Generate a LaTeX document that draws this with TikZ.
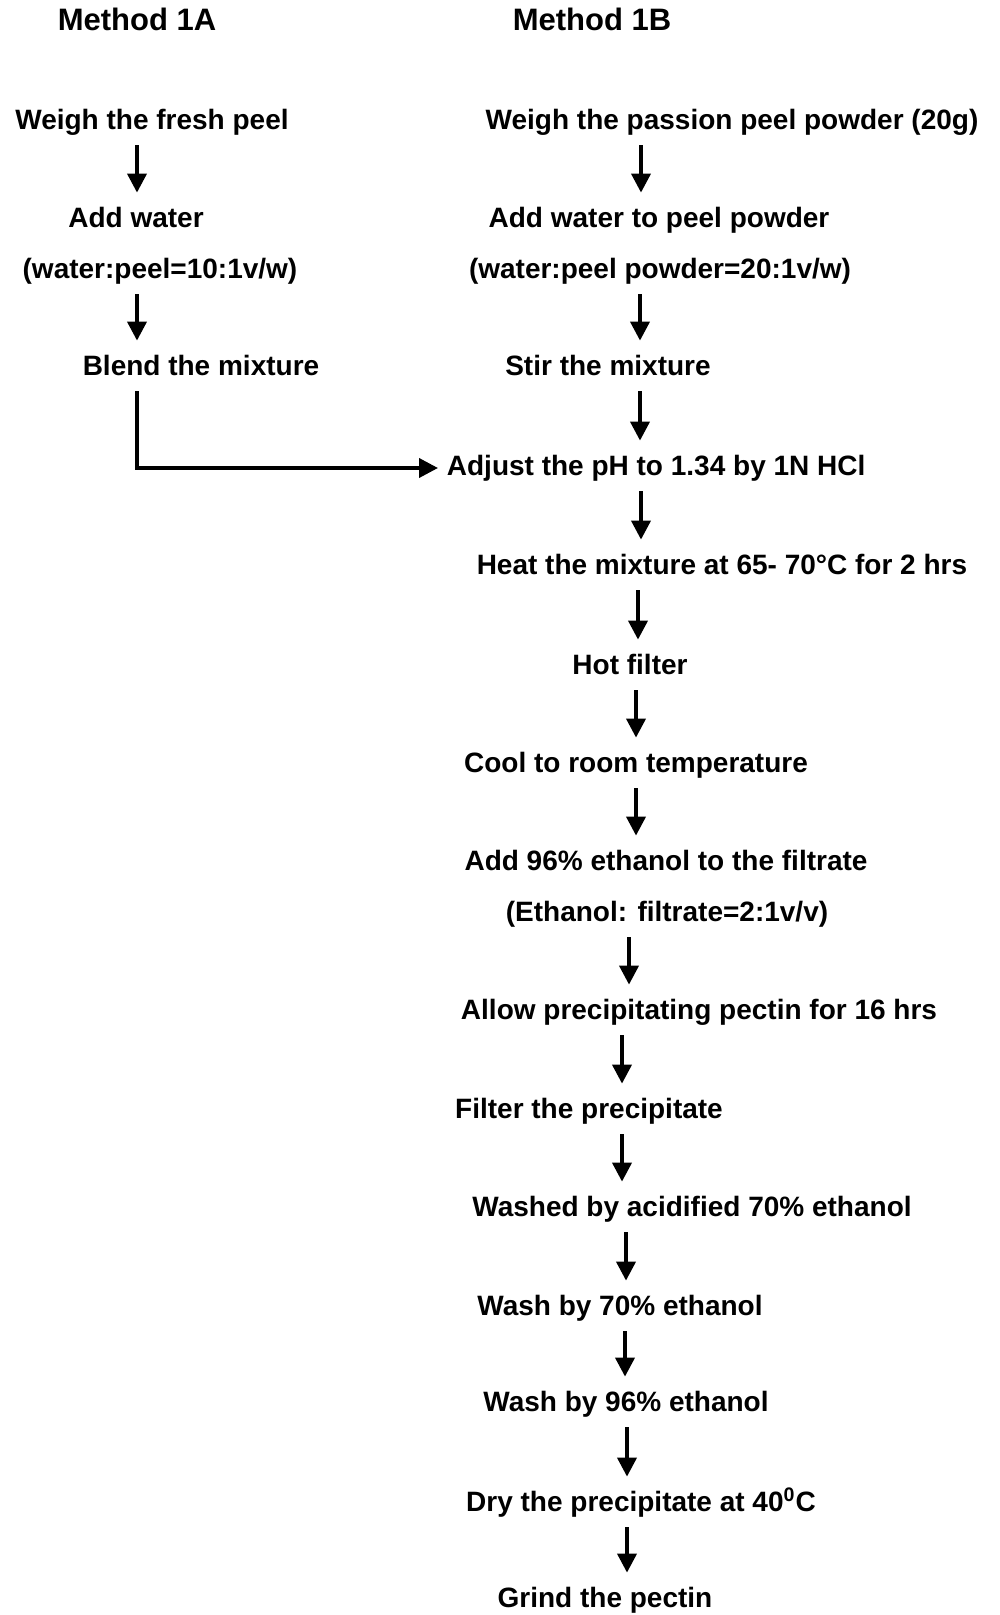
\documentclass[tikz,border=0pt]{standalone}
\usepackage{fontspec}
\setmainfont{Liberation Sans}
\usetikzlibrary{arrows.meta}

\begin{document}
\begin{tikzpicture}[x=0.5pt,y=-0.5pt,->,>={Triangle[width=9.5pt,length=9.5pt]},
                    line width=1.9pt,shorten <=4pt,shorten >=6pt]
  \tikzstyle{every node}=[inner sep=0pt,text height=10.5pt,text depth=3pt,
                          font=\fontsize{14}{16}\selectfont\bfseries]
  \tikzstyle{heading}=[font=\fontsize{15.5}{18}\selectfont\bfseries]
  \useasboundingbox (0,0) rectangle (1000,1615);

  % headings
  \node[heading] (hA) at (137,23) {Method 1A};
  \node[heading] (hB) at (592,23) {Method 1B};

  % method 1A
  \node (wA)  at (152,122) {Weigh the fresh peel};
  \node (awA) at (136,220) {Add water};
  \node (rA)  at (160,271) {(water:peel=10:1v/w)};
  \node (blA) at (201,368) {Blend the mixture};

  % method 1B
  \node (wB)  at (732,122) {Weigh the passion peel powder (20g)};
  \node (awB) at (659,220) {Add water to peel powder};
  \node (rB)  at (660,271) {(water:peel powder=20:1v/w)};
  \node (stB) at (608,368) {Stir the mixture};

  % common steps
  \node[anchor=west] (adj) at (445,468) {Adjust the pH to 1.34 by 1N HCl};
  \node (heat)  at (722,567)  {Heat the mixture at 65- 70°C for 2 hrs};
  \node (hot)   at (630,667)  {Hot filter};
  \node (cool)  at (636,765)  {Cool to room temperature};
  \node (add)   at (666,863)  {Add 96\% ethanol to the filtrate};
  \node (ethr)  at (667,914)  {(Ethanol: filtrate=2:1v/v)};
  \node (allow) at (699,1012) {Allow precipitating pectin for 16 hrs};
  \node (filt)  at (589,1111) {Filter the precipitate};
  \node (washd) at (692,1209) {Washed by acidified 70\% ethanol};
  \node (w70)   at (620,1308) {Wash by 70\% ethanol};
  \node (w96)   at (626,1404) {Wash by 96\% ethanol};
  \node (dry)   at (641,1504) {Dry the precipitate at 40\textsuperscript{0}C};
  \node (grind) at (605,1600) {Grind the pectin};

  \foreach \a/\b/\x in {wA/awA/137, rA/blA/137, wB/awB/641, rB/stB/640,
                        stB/adj/640, adj/heat/641, heat/hot/638, hot/cool/636,
                        cool/add/636, ethr/allow/629, allow/filt/622,
                        filt/washd/622, washd/w70/626, w70/w96/625,
                        w96/dry/627, dry/grind/627}
    \draw (\a.south -| \x,0) -- (\b.north -| \x,0);

  \draw[shorten >=3.5pt] (blA.south -| 137,0) |- (adj.west);
\end{tikzpicture}
\end{document}
